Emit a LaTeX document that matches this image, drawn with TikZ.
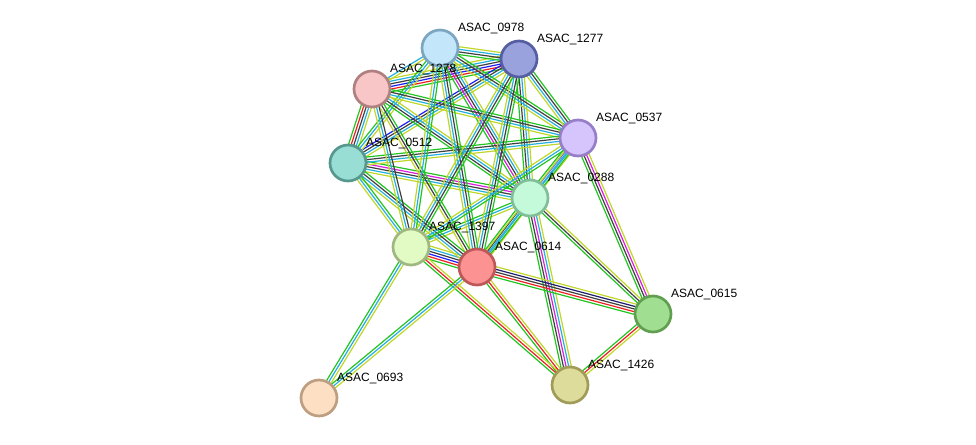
\documentclass[tikz,border=0pt]{standalone}
\usepackage{fontspec}
\setmainfont{Liberation Sans}
\usetikzlibrary{calc,backgrounds}

\definecolor{gn}{RGB}{34,196,34}
\definecolor{rd}{RGB}{236,32,32}
\definecolor{bl}{RGB}{30,30,245}
\definecolor{nv}{RGB}{30,30,110}
\definecolor{bk}{RGB}{64,64,64}
\definecolor{mg}{RGB}{220,30,220}
\definecolor{cy}{RGB}{36,176,222}
\definecolor{yg}{RGB}{192,214,40}
\definecolor{pu}{RGB}{110,110,230}

% one line per evidence channel, side by side
\newcommand{\lnk}[3]{%
  \foreach \c [count=\n] in {#3} {\xdef\nl{\n}}%
  \foreach \c [count=\i] in {#3} {%
    \pgfmathsetmacro{\off}{(\i-(\nl+1)/2)*2.6}%
    \draw[\c,line width=1.2pt] ($(#1.center)!\off pt!90:(#2.center)$) -- ($(#2.center)!\off pt!-90:(#1.center)$);
  }%
}

\begin{document}
\begin{tikzpicture}[x=1pt,y=-1pt,
  prot/.style={circle,minimum size=36pt,inner sep=0pt,line width=2.7pt},
  lbl/.style={anchor=base west,inner sep=0pt,font=\fontsize{12}{14}\selectfont}]
\useasboundingbox (0,0) rectangle (976,444);

\draw (440,48) node[prot,fill={rgb,255:red,196;green,230;blue,250},draw={rgb,255:red,124;green,166;blue,192}] (n0978) {} ;
\draw (519,59) node[prot,fill={rgb,255:red,154;green,162;blue,222},draw={rgb,255:red,84;green,94;blue,160}] (n1277) {} ;
\draw (372,89) node[prot,fill={rgb,255:red,248;green,198;blue,198},draw={rgb,255:red,176;green,128;blue,128}] (n1278) {} ;
\draw (578,138) node[prot,fill={rgb,255:red,214;green,196;blue,252},draw={rgb,255:red,150;green,126;blue,200}] (n0537) {} ;
\draw (348,163) node[prot,fill={rgb,255:red,152;green,222;blue,212},draw={rgb,255:red,86;green,152;blue,142}] (n0512) {} ;
\draw (530,198) node[prot,fill={rgb,255:red,196;green,250;blue,218},draw={rgb,255:red,128;green,190;blue,152}] (n0288) {} ;
\draw (411,247) node[prot,fill={rgb,255:red,226;green,250;blue,196},draw={rgb,255:red,160;green,184;blue,128}] (n1397) {} ;
\draw (477,267) node[prot,fill={rgb,255:red,252;green,146;blue,146},draw={rgb,255:red,190;green,88;blue,88}] (n0614) {} ;
\draw (653,314) node[prot,fill={rgb,255:red,160;green,222;blue,146},draw={rgb,255:red,96;green,158;blue,80}] (n0615) {} ;
\draw (570,385) node[prot,fill={rgb,255:red,222;green,220;blue,154},draw={rgb,255:red,160;green,156;blue,88}] (n1426) {} ;
\draw (319,398) node[prot,fill={rgb,255:red,253;green,224;blue,196},draw={rgb,255:red,190;green,158;blue,128}] (n0693) {} ;

\begin{pgfonlayer}{background}
\lnk{n1278}{n1277}{gn,rd,bl,bk,cy,yg}
\lnk{n0978}{n1277}{gn,bk,cy,yg}
\lnk{n0978}{n1278}{cy,yg}
\lnk{n1278}{n0512}{gn,rd,bk,cy,yg}
\lnk{n1277}{n0512}{bl,bk,cy,yg}
\lnk{n0978}{n0512}{gn,cy,yg}
\lnk{n0288}{n0512}{gn,mg,bk,cy,yg}
\lnk{n0978}{n0288}{gn,mg,bk,cy,yg}
\lnk{n1278}{n0288}{gn,bk,cy,yg}
\lnk{n1277}{n0288}{gn,bk,cy,yg}
\lnk{n0537}{n0288}{gn,pu,cy,yg}
\lnk{n0537}{n0978}{gn,bk,cy,yg}
\lnk{n0537}{n1277}{gn,bk,cy,yg}
\lnk{n0537}{n1278}{gn,bk,cy,yg}
\lnk{n0537}{n0512}{gn,bk,cy,yg}
\lnk{n0537}{n0615}{gn,bk,mg,yg}
\lnk{n0288}{n0615}{gn,bk,yg}
\lnk{n0288}{n1426}{gn,bk,mg,cy,yg}
\lnk{n0288}{n0614}{gn,bk,cy,yg}
\lnk{n0288}{n1397}{gn,cy,yg}
\lnk{n0614}{n0615}{gn,rd,bk,nv,yg}
\lnk{n1397}{n0614}{gn,rd,bl,bk,cy,yg}
\lnk{n0614}{n1426}{gn,rd,yg}
\lnk{n1397}{n1426}{gn,rd,yg}
\lnk{n0615}{n1426}{gn,rd,yg}
\lnk{n1397}{n0693}{gn,cy,yg}
\lnk{n0614}{n0693}{gn,cy,yg}
\lnk{n0614}{n1277}{gn,bk,cy,yg}
\lnk{n0614}{n0978}{gn,bk,cy,yg}
\lnk{n0614}{n1278}{gn,bk,yg}
\lnk{n0614}{n0512}{gn,bk,cy,yg}
\lnk{n0614}{n0537}{gn,cy,yg}
\lnk{n1397}{n0978}{gn,cy,yg}
\lnk{n1397}{n1277}{gn,bk,cy,yg}
\lnk{n1397}{n1278}{bk,cy,yg}
\lnk{n1397}{n0512}{gn,cy,yg}
\lnk{n1397}{n0537}{gn,cy,yg}
\end{pgfonlayer}

\draw (n0978) ++(18,-16) node[lbl] (l0978) {ASAC\_0978} ;
\draw (n1277) ++(18,-17) node[lbl] (l1277) {ASAC\_1277} ;
\draw (n1278) ++(18,-17) node[lbl] (l1278) {ASAC\_1278} ;
\draw (n0537) ++(18,-17) node[lbl] (l0537) {ASAC\_0537} ;
\draw (n0512) ++(18,-17) node[lbl] (l0512) {ASAC\_0512} ;
\draw (n0288) ++(18,-17) node[lbl] (l0288) {ASAC\_0288} ;
\draw (n1397) ++(18,-17) node[lbl] (l1397) {ASAC\_1397} ;
\draw (n0614) ++(18,-17) node[lbl] (l0614) {ASAC\_0614} ;
\draw (n0615) ++(18,-17) node[lbl] (l0615) {ASAC\_0615} ;
\draw (n1426) ++(18,-17) node[lbl] (l1426) {ASAC\_1426} ;
\draw (n0693) ++(18,-17) node[lbl] (l0693) {ASAC\_0693} ;
\end{tikzpicture}
\end{document}
